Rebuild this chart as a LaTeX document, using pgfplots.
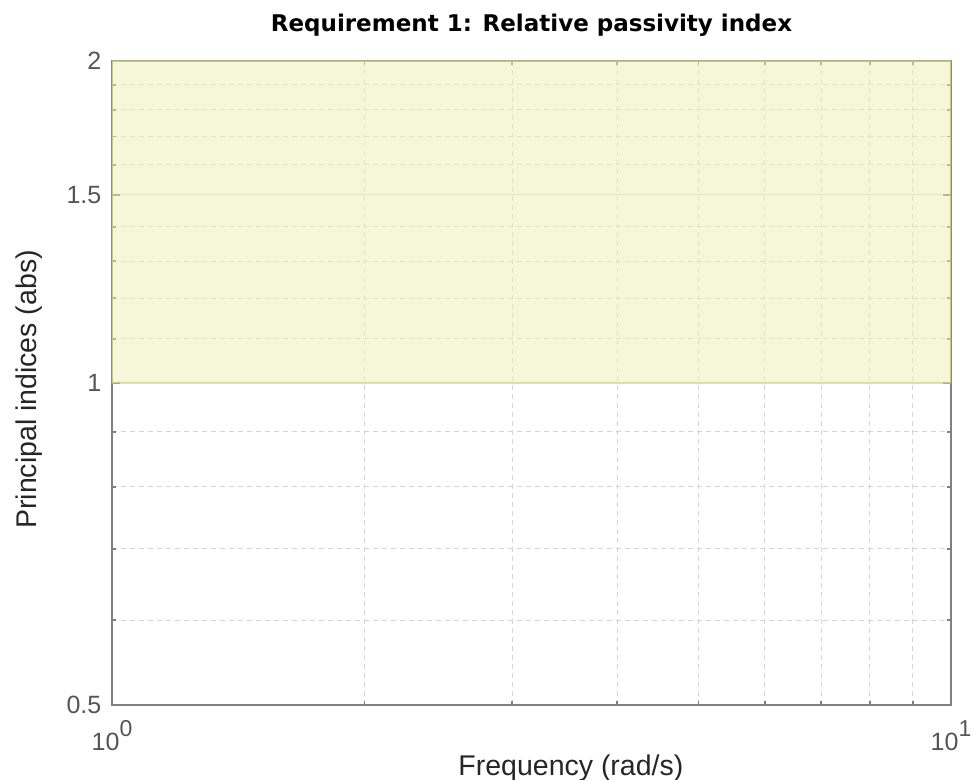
\documentclass[border=0pt]{standalone}
\usepackage{pgfplots}
\pgfplotsset{compat=1.18}
\usepackage{fontspec}
\setmainfont{Liberation Sans}
\newfontfamily\titlefont{DejaVu Sans}
\definecolor{patchfill}{RGB}{238,238,180}
\definecolor{patchedge}{RGB}{205,205,130}
\definecolor{axgray}{RGB}{128,128,128}
\definecolor{ticklab}{RGB}{85,85,85}
\definecolor{labcol}{RGB}{38,38,38}
\definecolor{majgrid}{RGB}{220,220,220}
\definecolor{mingrid}{RGB}{212,212,212}
\begin{document}
\begin{tikzpicture}
\begin{loglogaxis}[
  at={(0,0)}, anchor=south west,
  scale only axis, width=419.5pt, height=322pt,
  xmin=1, xmax=10, ymin=0.5, ymax=2,
  xtick={1,10},
  xticklabels={10\raisebox{0.55em}{\fontsize{11.5}{11.5}\selectfont 0},10\raisebox{0.55em}{\fontsize{11.5}{11.5}\selectfont 1}},
  minor xtick={2,3,4,5,6,7,8,9},
  ytick={0.5,1,1.5,2}, yticklabels={0.5,1,1.5,2},
  minor ytick={0.6,0.7,0.8,0.9,1.1,1.2,1.3,1.4,1.6,1.7,1.8,1.9},
  grid=both,
  major grid style={majgrid, line width=0.5pt},
  minor grid style={mingrid, dash pattern=on 2.5pt off 2pt, line width=0.5pt},
  axis line style={axgray, line width=0.9pt},
  every tick/.style={axgray, line width=0.9pt},
  major tick length=4pt, minor tick length=2pt,
  tick align=inside,
  xticklabel style={font=\fontsize{12.5}{14}\selectfont, text=ticklab, anchor=north, yshift=-4.3pt},
  yticklabel style={font=\fontsize{12.5}{14}\selectfont, text=ticklab, anchor=east, xshift=-1.8pt},
  title={Requirement 1: Relative passivity index},
  title style={font=\titlefont\bfseries\fontsize{11.5}{13}\selectfont, text=black, at={(rel axis cs:0.5,1)}, anchor=base, yshift=8.5pt},
  xlabel={Frequency (rad/s)},
  xlabel style={font=\fontsize{14.25}{16}\selectfont, text=labcol, at={(rel axis cs:0.547,-0.1087)}, anchor=base},
  ylabel={Principal indices (abs)},
  ylabel style={font=\fontsize{14.25}{16}\selectfont, text=labcol, at={(rel axis cs:-0.0894,0.49)}, anchor=base},
]
\addplot[fill=patchfill, fill opacity=0.5, draw=patchedge, draw opacity=0.6, line width=1pt]
  coordinates {(1,1) (10,1) (10,2) (1,2) (1,1)};
\end{loglogaxis}
\pgfresetboundingbox
\path[use as bounding box] (-56pt,-37.5pt) rectangle (431pt,352.5pt);
\end{tikzpicture}
\end{document}
